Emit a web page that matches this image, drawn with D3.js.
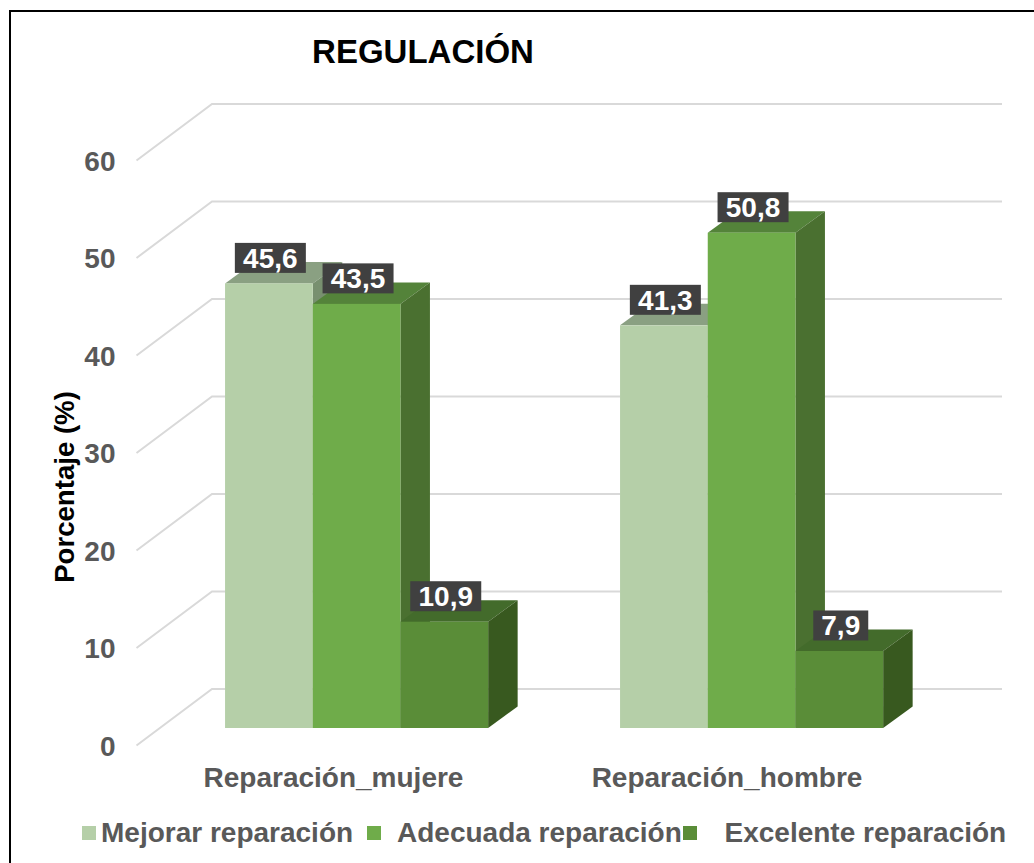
<!DOCTYPE html>
<html><head><meta charset="utf-8">
<script src="https://cdn.jsdelivr.net/npm/d3@7"></script>
<style>html,body{margin:0;padding:0;background:#fff;overflow:hidden}svg{display:block}text{font-family:"Liberation Sans",Arial,sans-serif;font-weight:700}</style>
</head><body><svg id="c" width="1034" height="863"></svg>
<script>
const categories = ["Reparación_mujere", "Reparación_hombre"];
const seriesNames = ["Mejorar reparación", "Adecuada reparación", "Excelente reparación"];
const mejorar = [45.6, 41.3];
const adecuada = [43.5, 50.8];
const excelente = [10.9, 7.9];
const valueLabels = [["45,6","41,3"],["43,5","50,8"],["10,9","7,9"]];
const ticks = [0,10,20,30,40,50,60];
const seriesValues = [mejorar, adecuada, excelente];
const front = ["#b5cfa8","#6fac4a","#5a8d38"];
const top_ = ["#8aa082","#54833a","#436b2b"];
const side = ["#78906f","#4a7030","#38591f"];

const svg = d3.select("#c");
svg.append("rect").attr("x",10).attr("y",11).attr("width",1040).attr("height",880).attr("fill","#fff").attr("stroke","#000").attr("stroke-width",2);

const y = d3.scaleLinear().domain([0,60]).range([728,143]);
const x0 = d3.scalePoint().domain(categories).range([356.6,751.6]);
const barW = 87.7;
const dx = 29.5, dy = -21.5;
const wallDy = -39;

const grid = svg.append("g").attr("fill","none").attr("stroke","#d9d9d9").attr("stroke-width",2);
ticks.forEach(t=>{
  const yb = y(t)+wallDy;
  grid.append("path").attr("d",`M136.5,${yb+56.5}L212,${yb}L1002,${yb}`);
});

svg.append("g").selectAll("text").data(ticks).join("text")
  .attr("x",115.5).attr("y",t=>y(t)+27.7).attr("text-anchor","end")
  .attr("font-size",28).attr("fill","#595959").text(t=>t);

const bars = svg.append("g");
const labels = [];
categories.forEach((c,ci)=>{
  seriesValues.forEach((vals,si)=>{
    const xl = x0(c) + (si-1.5)*barW;
    const v = vals[ci];
    const yt = y(v), yb = y(0), xr = xl+barW;
    bars.append("path").attr("fill",top_[si]).attr("d",`M${xl},${yt}L${xl+dx},${yt+dy}L${xr+dx},${yt+dy}L${xr},${yt}Z`);
    bars.append("path").attr("fill",side[si]).attr("d",`M${xr},${yt}L${xr+dx},${yt+dy}L${xr+dx},${yb+dy}L${xr},${yb}Z`);
    bars.append("rect").attr("x",xl).attr("y",yt).attr("width",barW).attr("height",yb-yt).attr("fill",front[si]);
    labels.push({x:xl+45.3,y:yt-25.5,t:valueLabels[si][ci]});
  });
});
const lg = svg.append("g");
labels.forEach(l=>{
  const w = l.t.length>3?71:55;
  lg.append("rect").attr("x",l.x-w/2).attr("y",l.y-15).attr("width",w).attr("height",30).attr("fill","#404040");
  lg.append("text").attr("x",l.x).attr("y",l.y+10).attr("text-anchor","middle").attr("font-size",28).attr("fill","#fff").text(l.t);
});

const catX = [333.5, 727];
svg.append("g").selectAll("text").data(categories).join("text")
  .attr("x",(c,i)=>catX[i]).attr("y",787).attr("text-anchor","middle")
  .attr("font-size",28).attr("fill","#595959").text(c=>c);

svg.append("text").attr("x",423).attr("y",63).attr("text-anchor","middle").attr("font-size",33).attr("fill","#000").text("REGULACIÓN");
svg.append("text").attr("transform","translate(74,487) rotate(-90)").attr("text-anchor","middle").attr("font-size",27.6).attr("fill","#000").text("Porcentaje (%)");

const legendX = [82,367,683];
const legendTextX = [101,397,724.5];
seriesNames.forEach((n,i)=>{
  svg.append("rect").attr("x",legendX[i]).attr("y",826).attr("width",14).attr("height",14).attr("fill",front[i]);
  svg.append("text").attr("x",legendTextX[i]).attr("y",842).attr("font-size",28).attr("fill","#595959").text(n);
});
</script></body></html>
